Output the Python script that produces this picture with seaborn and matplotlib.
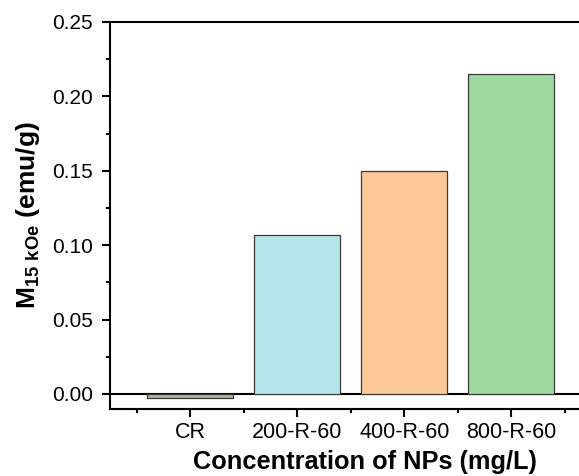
import matplotlib
matplotlib.use("Agg")
import matplotlib.pyplot as plt
import seaborn as sns
import pandas as pd
from matplotlib.ticker import MultipleLocator, FixedLocator

categories = ["CR", "200-R-60", "400-R-60", "800-R-60"]
values = [-0.003, 0.107, 0.150, 0.215]
colors = ["#b0b795", "#b5e5ea", "#fdc898", "#9fd89d"]
yticks = [0.00, 0.05, 0.10, 0.15, 0.20, 0.25]

sns.set_style("ticks")
plt.rcParams["font.family"] = ["Liberation Sans", "DejaVu Sans"]
plt.rcParams["mathtext.default"] = "regular"

df = pd.DataFrame({"cat": categories, "val": values})

fig = plt.figure(figsize=(5.79, 4.76), dpi=100)
ax_right = 620
ax = fig.add_axes([110 / 579, 1 - 409 / 476, (ax_right - 110) / 579, (409 - 22) / 476])

sns.barplot(data=df, x="cat", y="val", hue="cat", palette=colors, legend=False,
            width=0.8, edgecolor="#3a3a3a", linewidth=0.9, ax=ax, saturation=1)

ax.axhline(0, color="black", lw=1.5, zorder=0.5)
ax.set_xlim(-0.75, -0.75 + (ax_right - 110) / 107)
ax.set_ylim(-0.0101, 0.25)
ax.set_yticks(yticks)
ax.set_yticklabels([f"{t:.2f}" for t in yticks])
ax.yaxis.set_minor_locator(MultipleLocator(0.025))
ax.xaxis.set_minor_locator(FixedLocator([-0.5, 0.5, 1.5, 2.5, 3.5]))

for s in ["left", "bottom", "top"]:
    ax.spines[s].set_linewidth(1.5)
    ax.spines[s].set_color("black")
    ax.spines[s].set_visible(True)
ax.spines["right"].set_visible(False)

ax.tick_params(axis="y", which="major", direction="out", length=6, width=1.5,
               labelsize=15, color="black", labelcolor="black", pad=6.5)
ax.tick_params(axis="x", which="major", direction="out", length=6, width=1.5,
               labelsize=15.5, color="black", labelcolor="black", pad=3)
ax.tick_params(axis="both", which="minor", direction="out", length=3, width=1.5, color="black")
ax.tick_params(top=False, right=False, which="both")

ax.set_xlabel("Concentration of NPs (mg/L)", fontsize=18.3, fontweight="bold",
              color="black", labelpad=5.5)
ax.set_ylabel(r"M$_{15\ kOe}$ (emu/g)", fontsize=19, fontweight="bold",
              color="black", labelpad=7)

fig.savefig("out.png", dpi=100)
